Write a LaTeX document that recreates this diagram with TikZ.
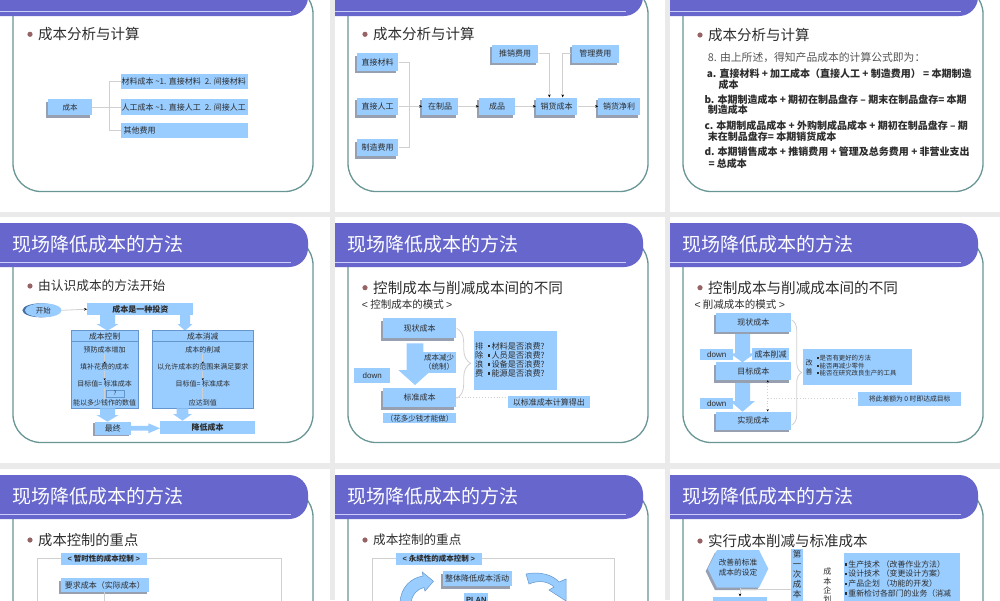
\documentclass[tikz,border=0pt]{standalone}
\usepackage{fontspec}
\setmainfont{Noto Sans CJK SC}
\newfontfamily\arialf{Liberation Sans}
\usetikzlibrary{arrows.meta,shadows,decorations.pathreplacing,shapes.geometric,calc}
\definecolor{gapgrey}{RGB}{234,234,234}
\definecolor{titlepurple}{RGB}{102,102,204}
\definecolor{titleline}{RGB}{206,206,250}
\definecolor{framecol}{RGB}{104,150,148}
\definecolor{boxblue}{RGB}{153,204,255}
\definecolor{shadowcol}{RGB}{150,160,176}
\definecolor{shadowdark}{RGB}{70,110,160}
\definecolor{bulletcol}{RGB}{150,100,100}
\definecolor{txt}{RGB}{45,45,45}
\definecolor{lncol}{RGB}{208,208,208}
\definecolor{panelline}{RGB}{100,150,205}
\definecolor{greytxt}{RGB}{85,85,85}
\newcommand\fsz[2]{\fontsize{#1}{#2}\selectfont}
\newcommand\bsq{\rule[0.22em]{0.3em}{0.3em}\,}
\tikzset{
  bx/.style={fill=boxblue, inner sep=0pt, text=txt, font=\fsz{8}{10}},
  shd/.style={general shadow={fill=shadowcol, shadow xshift=-2pt, shadow yshift=-2.5pt}},
  ln/.style={draw=lncol, line width=0.8pt},
  arr/.style={-{Stealth[length=3pt,width=2.6pt,black]}},
  tarr/.style={-{Stealth[length=2pt,width=2pt,black]}},
  dotln/.style={draw=lncol, line width=0.9pt, dotted},
  hd/.style={anchor=west, text=txt, inner sep=0pt},
  ttl/.style={anchor=west, text=white, inner sep=0pt, font=\fsz{19}{22}},
  tx/.style={text=txt, inner sep=0pt},
  pt/.style={text=txt, inner sep=0.3pt, font=\fsz{7}{8}},
  brc/.style={draw=lncol, line width=0.8pt, decorate},
  curv/.style={fill=boxblue, draw=panelline, line width=0.5pt},
  frm/.style={hd, font=\bfseries\fsz{10}{12}},
}
\newcommand\slideframe[6]{%
  \begin{scope}[shift={(#1,#2)}]
    \fill[white] (0,0) rectangle (330,246);
    \draw[framecol, line width=1.3pt, rounded corners=28pt] (13,20) rectangle (313,225.5);
    \fill[titlepurple, rounded corners=19pt] (-30,6) rectangle (308,50);
    \draw[titleline, line width=1.6pt] (0,45.3) -- (291,45.3);
    \fill[bulletcol] (30,#4) circle (2.6);
    \node[hd, font=\fsz{#5}{#5}] (#3) at (38,#4) {#6};
  \end{scope}}
\newcommand\darrow[6]{\fill[boxblue] ({#1-#5},#2) -- ({#1+#5},#2) -- ({#1+#5},#3) -- ({#1+#6},#3) -- (#1,#4) -- ({#1-#6},#3) -- ({#1-#5},#3) -- cycle;}
\newcommand\rarrow[6]{\fill[boxblue] (#2,{#1-#5}) -- (#3,{#1-#5}) -- (#3,{#1-#6}) -- (#4,#1) -- (#3,{#1+#6}) -- (#3,{#1+#5}) -- (#2,{#1+#5}) -- cycle;}
\begin{document}
\begin{tikzpicture}[x=1pt,y=-1pt]
\useasboundingbox (0,0) rectangle (1000,600);
\fill[gapgrey] (0,0) rectangle (1000,600);

% ---------------- S1
\begin{scope}
\clip (0,-34) rectangle (330,212);
\slideframe{0}{-34}{h1}{68.3}{14.5}{成本分析与计算}
\node[bx, shd, font=\fsz{7.5}{9}, minimum width=43.4, minimum height=15.7] (cb) at (70,107.2) {成本};
\node[bx, minimum width=127.6, minimum height=15.3] (b1) at (184.5,81.7) {\makebox[126pt][l]{材料成本 \textasciitilde1. 直接材料\enspace 2. 间接材料}};
\node[bx, minimum width=127.6, minimum height=15.7] (b2) at (184.5,107.2) {\makebox[126pt][l]{人工成本 \textasciitilde1. 直接人工\enspace 2. 间接人工}};
\node[bx, minimum width=127.6, minimum height=15] (b3) at (184.5,130.8) {\makebox[122pt][l]{其他费用}};
\draw[ln] (cb.east) -- (b2.west);
\draw[ln] (b1.west) -- ++(-10.7,0) |- (b3.west);
\end{scope}

% ---------------- S2
\begin{scope}
\clip (335,-34) rectangle (665,212);
\slideframe{335}{-34}{h2}{68.3}{14.5}{成本分析与计算}
\node[bx, shd, minimum width=41.6, minimum height=17.4] (dm) at (377.5,62) {直接材料};
\node[bx, shd, minimum width=41.6, minimum height=17.4] (dr) at (377.5,106.3) {直接人工};
\node[bx, shd, minimum width=41.6, minimum height=16.7] (zf) at (377.5,147.7) {制造费用};
\node[bx, shd, minimum width=35.4, minimum height=17.4] (zz) at (440,106.3) {在制品};
\node[bx, shd, minimum width=36, minimum height=17.4] (cp) at (497,106.3) {成品};
\node[bx, shd, minimum width=41.3, minimum height=17.4] (xc) at (556.7,106.3) {销货成本};
\node[bx, shd, minimum width=41.7, minimum height=17.4] (xj) at (619.2,106.3) {销货净利};
\node[bx, shd, minimum width=46.6, minimum height=17.7] (tx) at (515,53.8) {推销费用};
\node[bx, shd, minimum width=47.3, minimum height=17.7] (gl) at (595.3,53.8) {管理费用};
\draw[ln] (dm.east) -- ++(10.7,0) |- (zf.east);
\draw[ln,arr] (dr.east) -- (zz.west);
\draw[ln,arr] (zz.east) -- (cp.west);
\draw[ln,arr] (cp.east) -- (xc.west);
\draw[ln,arr] (xc.east) -- (xj.west);
\draw[ln,arr] (tx.east) -| ([xshift=-7.4pt]xc.north);
\draw[ln,arr] (gl.west) -| ([xshift=6pt]xc.north);
\end{scope}

% ---------------- S3
\begin{scope}
\clip (670,-34) rectangle (1000,212);
\slideframe{670}{-34}{h3}{69}{14.5}{成本分析与计算}
\node[hd, text=greytxt, font=\fsz{10.8}{12}] (s3l0) at (707.7,57.3) {8. 由上所述，得知产品成本的计算公式即为：};
\node[frm] (s3a1) at (706.7,73.3) {a. 直接材料 + 加工成本（直接人工 + 制造费用） = 本期制造};
\node[frm] (s3a2) at (718.3,85) {成本};
\node[frm] (s3b1) at (704.3,99.3) {b. 本期制造成本 + 期初在制品盘存 -- 期末在制品盘存= 本期};
\node[frm] (s3b2) at (707.7,110) {制造成本};
\node[frm] (s3c1) at (704.3,126) {c. 本期制成品成本 + 外购制成品成本 + 期初在制品盘存 -- 期};
\node[frm] (s3c2) at (707.7,136.7) {末在制品盘存= 本期销货成本};
\node[frm] (s3d1) at (704.3,151.7) {d. 本期销售成本 + 推销费用 + 管理及总务费用 + 非营业支出};
\node[frm] (s3d2) at (708.3,163.3) {= 总成本};
\end{scope}

% ---------------- S4
\begin{scope}
\clip (0,217) rectangle (330,464);
\slideframe{0}{217}{h4}{69}{12.7}{由认识成本的方法开始}
\node[ttl] (t4) at (12,244) {现场降低成本的方法};
\node[ellipse, fill=boxblue, inner sep=0pt, minimum width=36.7, minimum height=14, text=txt, font=\fsz{7.5}{9}, general shadow={fill=shadowdark, shadow xshift=-2.5pt, shadow yshift=0pt}] (ks) at (43.3,310.3) {开始};
\node[bx, font=\bfseries\fsz{8}{10}, minimum width=106, minimum height=11.7] (tz) at (140.3,309.2) {成本是一种投资};
\draw[ln,arr] (ks.east) -- (tz.west);
\darrow{107.5}{315}{324}{330.7}{7.5}{11}
\darrow{185}{315}{324}{330.7}{5}{7.5}
\node[bx, draw=panelline, line width=0.5pt, minimum width=67.3, minimum height=77.6] (p1) at (104.7,369.5) {};
\node[bx, draw=panelline, line width=0.5pt, minimum width=101, minimum height=77.6] (p2) at (202.8,369.5) {};
\draw[panelline, line width=0.5pt] ([yshift=-11pt]p1.north west) -- ([yshift=-11pt]p1.north east);
\draw[panelline, line width=0.5pt] ([yshift=-11pt]p2.north west) -- ([yshift=-11pt]p2.north east);
\node[tx, font=\fsz{7.8}{9}] (p1a) at (104.7,336.3) {成本控制};
\node[pt] (p1b) at (104.7,350) {预防成本增加};
\node[pt] (p1c) at (104.7,367.3) {填补花费的成本};
\node[pt] (p1d) at (104.7,384) {目标值= 标准成本};
\node[draw=panelline, line width=0.4pt, inner sep=0pt, minimum width=18, minimum height=7.3, text=txt, font=\fsz{6}{6}] (qm) at (115,393.7) {?};
\node[pt] (p1e) at (104.7,402.7) {能以多少钱作的数值};
\node[tx, font=\fsz{7.8}{9}] (p2a) at (202.8,336.3) {成本消减};
\node[pt] (p2b) at (202.8,350) {成本的削减};
\node[pt] (p2c) at (202.8,367.3) {以允许成本的范围来满足要求};
\node[pt] (p2d) at (202.8,384) {目标值= 标准成本};
\node[pt] (p2e) at (202.8,402.7) {应达到值};
\draw[ln,tarr] (p1b.south) -- (p1c.north);
\draw[ln,tarr] (p1c.south) -- (p1d.north);
\draw[ln] (p1d.south) -- (p1e.north);
\draw[ln,tarr] (p2b.south) -- (p2c.north);
\draw[ln,tarr] (p2c.south) -- (p2d.north);
\draw[ln] (p2d.south) -- (p2e.north);
\darrow{107.5}{408.3}{415}{421.7}{7.5}{11}
\darrow{182.5}{408.3}{414}{420.7}{5.8}{9.5}
\node[bx, font=\fsz{8}{10}, minimum width=35.7, minimum height=13.3, general shadow={fill=shadowcol, shadow xshift=-2pt, shadow yshift=-1pt}] (zj) at (112.8,428.3) {最终};
\node[bx, font=\bfseries\fsz{8}{10}, minimum width=95, minimum height=13.3] (jd) at (207.5,427.3) {降低成本};
\rarrow{428.3}{130.7}{148.3}{160}{2.4}{5}
\end{scope}

% ---------------- S5
\begin{scope}
\clip (335,217) rectangle (665,464);
\slideframe{335}{217}{h5}{70.7}{14.6}{控制成本与削减成本间的不同}
\node[ttl] (t5) at (347,244) {现场降低成本的方法};
\node[hd, font=\fsz{10.5}{12}] (ms5) at (361.7,304.3) {{\arialf <} 控制成本的模式 {\arialf >}};
\darrow{415}{343.3}{370}{385}{8.3}{16.7}
\node[bx, shd, minimum width=72.4, minimum height=20] (xz5) at (419.5,328.3) {现状成本};
\node[bx, shd, minimum width=72.4, minimum height=19] (bz5) at (419.5,397.8) {标准成本};
\node[bx, font=\fsz{7.5}{9}, minimum width=72.4, minimum height=10] (hf5) at (419.5,418.3) {（花多少钱才能做）};
\node[bx, align=center, font=\fsz{7.5}{9}, minimum width=33.4, minimum height=21] (cj5) at (439,362.2) {成本减少\\（统制）};
\node[bx, font=\arialf\fsz{8}{10}, minimum width=35.7, minimum height=14.4] (dn5) at (372.2,375.5) {down};
\coordinate (br5a) at (456.7,328.3);
\coordinate (br5b) at (456.7,398.3);
\draw[brc, decoration={brace, amplitude=14pt}] (br5a) -- (br5b);
\node[bx, minimum width=82.4, minimum height=59.3] (ph5) at (515.5,360.3) {};
\node[tx, align=center, font=\fsz{8.2}{9.1}] (ph5a) at (479.2,359.8) {排\\除\\浪\\费};
\node[tx, anchor=west, align=left, font=\fsz{8.2}{9.1}] (ph5b) at (487.5,359.8) {\bsq 材料是否浪费?\\\bsq 人员是否浪费?\\\bsq 设备是否浪费?\\\bsq 能源是否浪费?};
\node[bx, minimum width=82.3, minimum height=12.3] (ys5) at (548.8,402.2) {以标准成本计算得出};
\draw[dotln] (bz5.east) -- (bz5.east -| ys5.west);
\end{scope}

% ---------------- S6
\begin{scope}
\clip (670,217) rectangle (1000,464);
\slideframe{670}{217}{h6}{70.7}{14.6}{控制成本与削减成本间的不同}
\node[ttl] (t6) at (682,244) {现场降低成本的方法};
\node[hd, font=\fsz{10.5}{12}] (ms6) at (694.3,304.3) {{\arialf <} 削减成本的模式 {\arialf >}};
\darrow{742.5}{331.7}{353.3}{362.3}{7.5}{12.5}
\darrow{742.5}{380}{401}{411.7}{7.5}{12.5}
\node[bx, shd, minimum width=75.3, minimum height=19] (xz6) at (753.3,322.2) {现状成本};
\node[bx, shd, minimum width=75.3, minimum height=17.7] (mb6) at (753.3,371.2) {目标成本};
\node[bx, shd, minimum width=75.3, minimum height=18.3] (sx6) at (753.3,420.8) {实现成本};
\node[bx, font=\arialf\fsz{8}{10}, minimum width=33.3, minimum height=10.7] (dn6a) at (716.7,354.7) {down};
\node[bx, font=\arialf\fsz{8}{10}, minimum width=33.3, minimum height=11] (dn6b) at (716.7,403.8) {down};
\node[bx, font=\fsz{8}{10}, minimum width=36.7, minimum height=11.7] (cx6) at (770.7,354.2) {成本削减};
\coordinate (br6a) at (791.7,320);
\coordinate (br6b) at (791.7,425);
\draw[brc, decoration={brace, amplitude=10pt}] (br6a) -- (br6b);
\node[bx, minimum width=109, minimum height=35.7] (gs6) at (857.8,367.2) {};
\node[tx, align=center, font=\fsz{7}{9.6}] (gs6a) at (809,367.5) {改\\善};
\node[tx, anchor=west, align=left, font=\fsz{6.4}{7.5}] (gs6b) at (816.5,365.8) {\bsq 是否有更好的方法\\\bsq 能否再减少零件\\\bsq 能否在研究改良生产的工具};
\draw[dotln, {Stealth[length=2.2pt,width=2.2pt,black]}-{Stealth[length=2.2pt,width=2.2pt,black]}] ([xshift=14.4pt]sx6.north) -- ([xshift=14.4pt]mb6.south);
\coordinate (d6) at (767.7,398.3);
\node[bx, font=\fsz{6.8}{8}, minimum width=102.7, minimum height=14.3] (jc6) at (909.7,398.8) {将此差额为 0 时即达成目标};
\draw[dotln] (d6) -- (d6 -| jc6.west);
\end{scope}

% ---------------- S7
\begin{scope}
\clip (0,469) rectangle (330,715);
\slideframe{0}{469}{h7}{71}{14.3}{成本控制的重点}
\node[ttl] (t7) at (12,496.5) {现场降低成本的方法};
\draw[lncol, line width=0.6pt] (37.3,558.3) rectangle (281.7,650);
\node[bx, font=\bfseries\fsz{7.5}{9}, minimum width=85.7, minimum height=12.3] (zs7) at (103.8,558.8) {{\arialf <} 暂时性的成本控制 {\arialf >}};
\node[bx, shd, font=\fsz{8}{10}, minimum width=88.3, minimum height=13.4] (yq7) at (104.8,585) {要求成本（实际成本）};
\draw[ln] (yq7.south) -- ++(0,20);
\end{scope}

% ---------------- S8
\begin{scope}
\clip (335,469) rectangle (665,715);
\slideframe{335}{469}{h8}{71}{12.6}{成本控制的重点}
\node[ttl] (t8) at (347,496.5) {现场降低成本的方法};
\draw[lncol, line width=0.6pt] (372.3,558.3) rectangle (614.3,650);
\node[bx, font=\bfseries\fsz{7.5}{9}, minimum width=85.7, minimum height=12.3] (ys8) at (438.8,558.8) {{\arialf <} 永续性的成本控制 {\arialf >}};
\node[bx, shd, font=\fsz{8}{10}, minimum width=69, minimum height=15] (zt8) at (477.2,578.5) {整体降低成本活动};
\node[bx, font=\arialf\bfseries\fsz{7.5}{9}, minimum width=24, minimum height=14] (pl8) at (476.3,600) {PLAN};
\filldraw[curv] (400,602) .. controls (401,588) and (410,578) .. (423,576) -- (422.3,572) -- (433.5,581.3) -- (425,591) -- (424,587.5) .. controls (417,589) and (412,595) .. (411,602) -- cycle;
\filldraw[curv] (526,574) .. controls (540,571) and (553,575) .. (559,582) -- (566,579) -- (566,601) -- (549,590) -- (554,587) .. controls (548,581) and (538,580) .. (529,584) -- cycle;
\end{scope}

% ---------------- S9
\begin{scope}
\clip (670,469) rectangle (1000,715);
\slideframe{670}{469}{h9}{72}{14.5}{实行成本削减与标准成本}
\node[ttl] (t9) at (682,496.5) {现场降低成本的方法};
\fill[shadowcol] (705.7,571.3) -- (715,552.5) -- (757,552.5) -- (766.3,571.3) -- (757,590.2) -- (715,590.2) -- cycle;
\fill[boxblue] (707.7,568.8) -- (717,550) -- (759,550) -- (768.3,568.8) -- (759,587.7) -- (717,587.7) -- cycle;
\node[tx, align=center, font=\fsz{7.7}{10}] (hx9) at (738,567.3) {改善前标准\\成本的设定};
\node[bx, minimum width=53.4, minimum height=20] (s9b) at (740,606.7) {};
\coordinate (hxb) at (740,587.7);
\draw[ln,arr] (hxb) -- (s9b.north);
\coordinate (hj9) at (740,589);
\node[bx, anchor=north, minimum width=12.3, minimum height=75] (dy9) at (797.2,548.3) {};
\draw[ln] (hj9) -- (hj9 -| dy9.west);
\node[tx, anchor=north, align=center, font=\fsz{8.5}{9.8}] (dy9t) at (797.2,550.5) {第\\一\\次\\成\\本};
\node[tx, anchor=north, align=center, font=\fsz{8}{9.2}] (qh9) at (827.3,568) {成\\本\\企\\划};
\node[bx, anchor=north west, minimum width=116.7, minimum height=70] (bl9) at (843.3,552.7) {};
\node[tx, anchor=north west, align=left, font=\fsz{7.9}{9.7}] (bl9t) at (844.5,560.3) {\bsq 生产技术 （改善作业方法）\\\bsq 设计技术 （变更设计方案）\\\bsq 产品企划 （功能的开发）\\\bsq 重新检讨各部门的业务（消减};
\end{scope}
\end{tikzpicture}
\end{document}
